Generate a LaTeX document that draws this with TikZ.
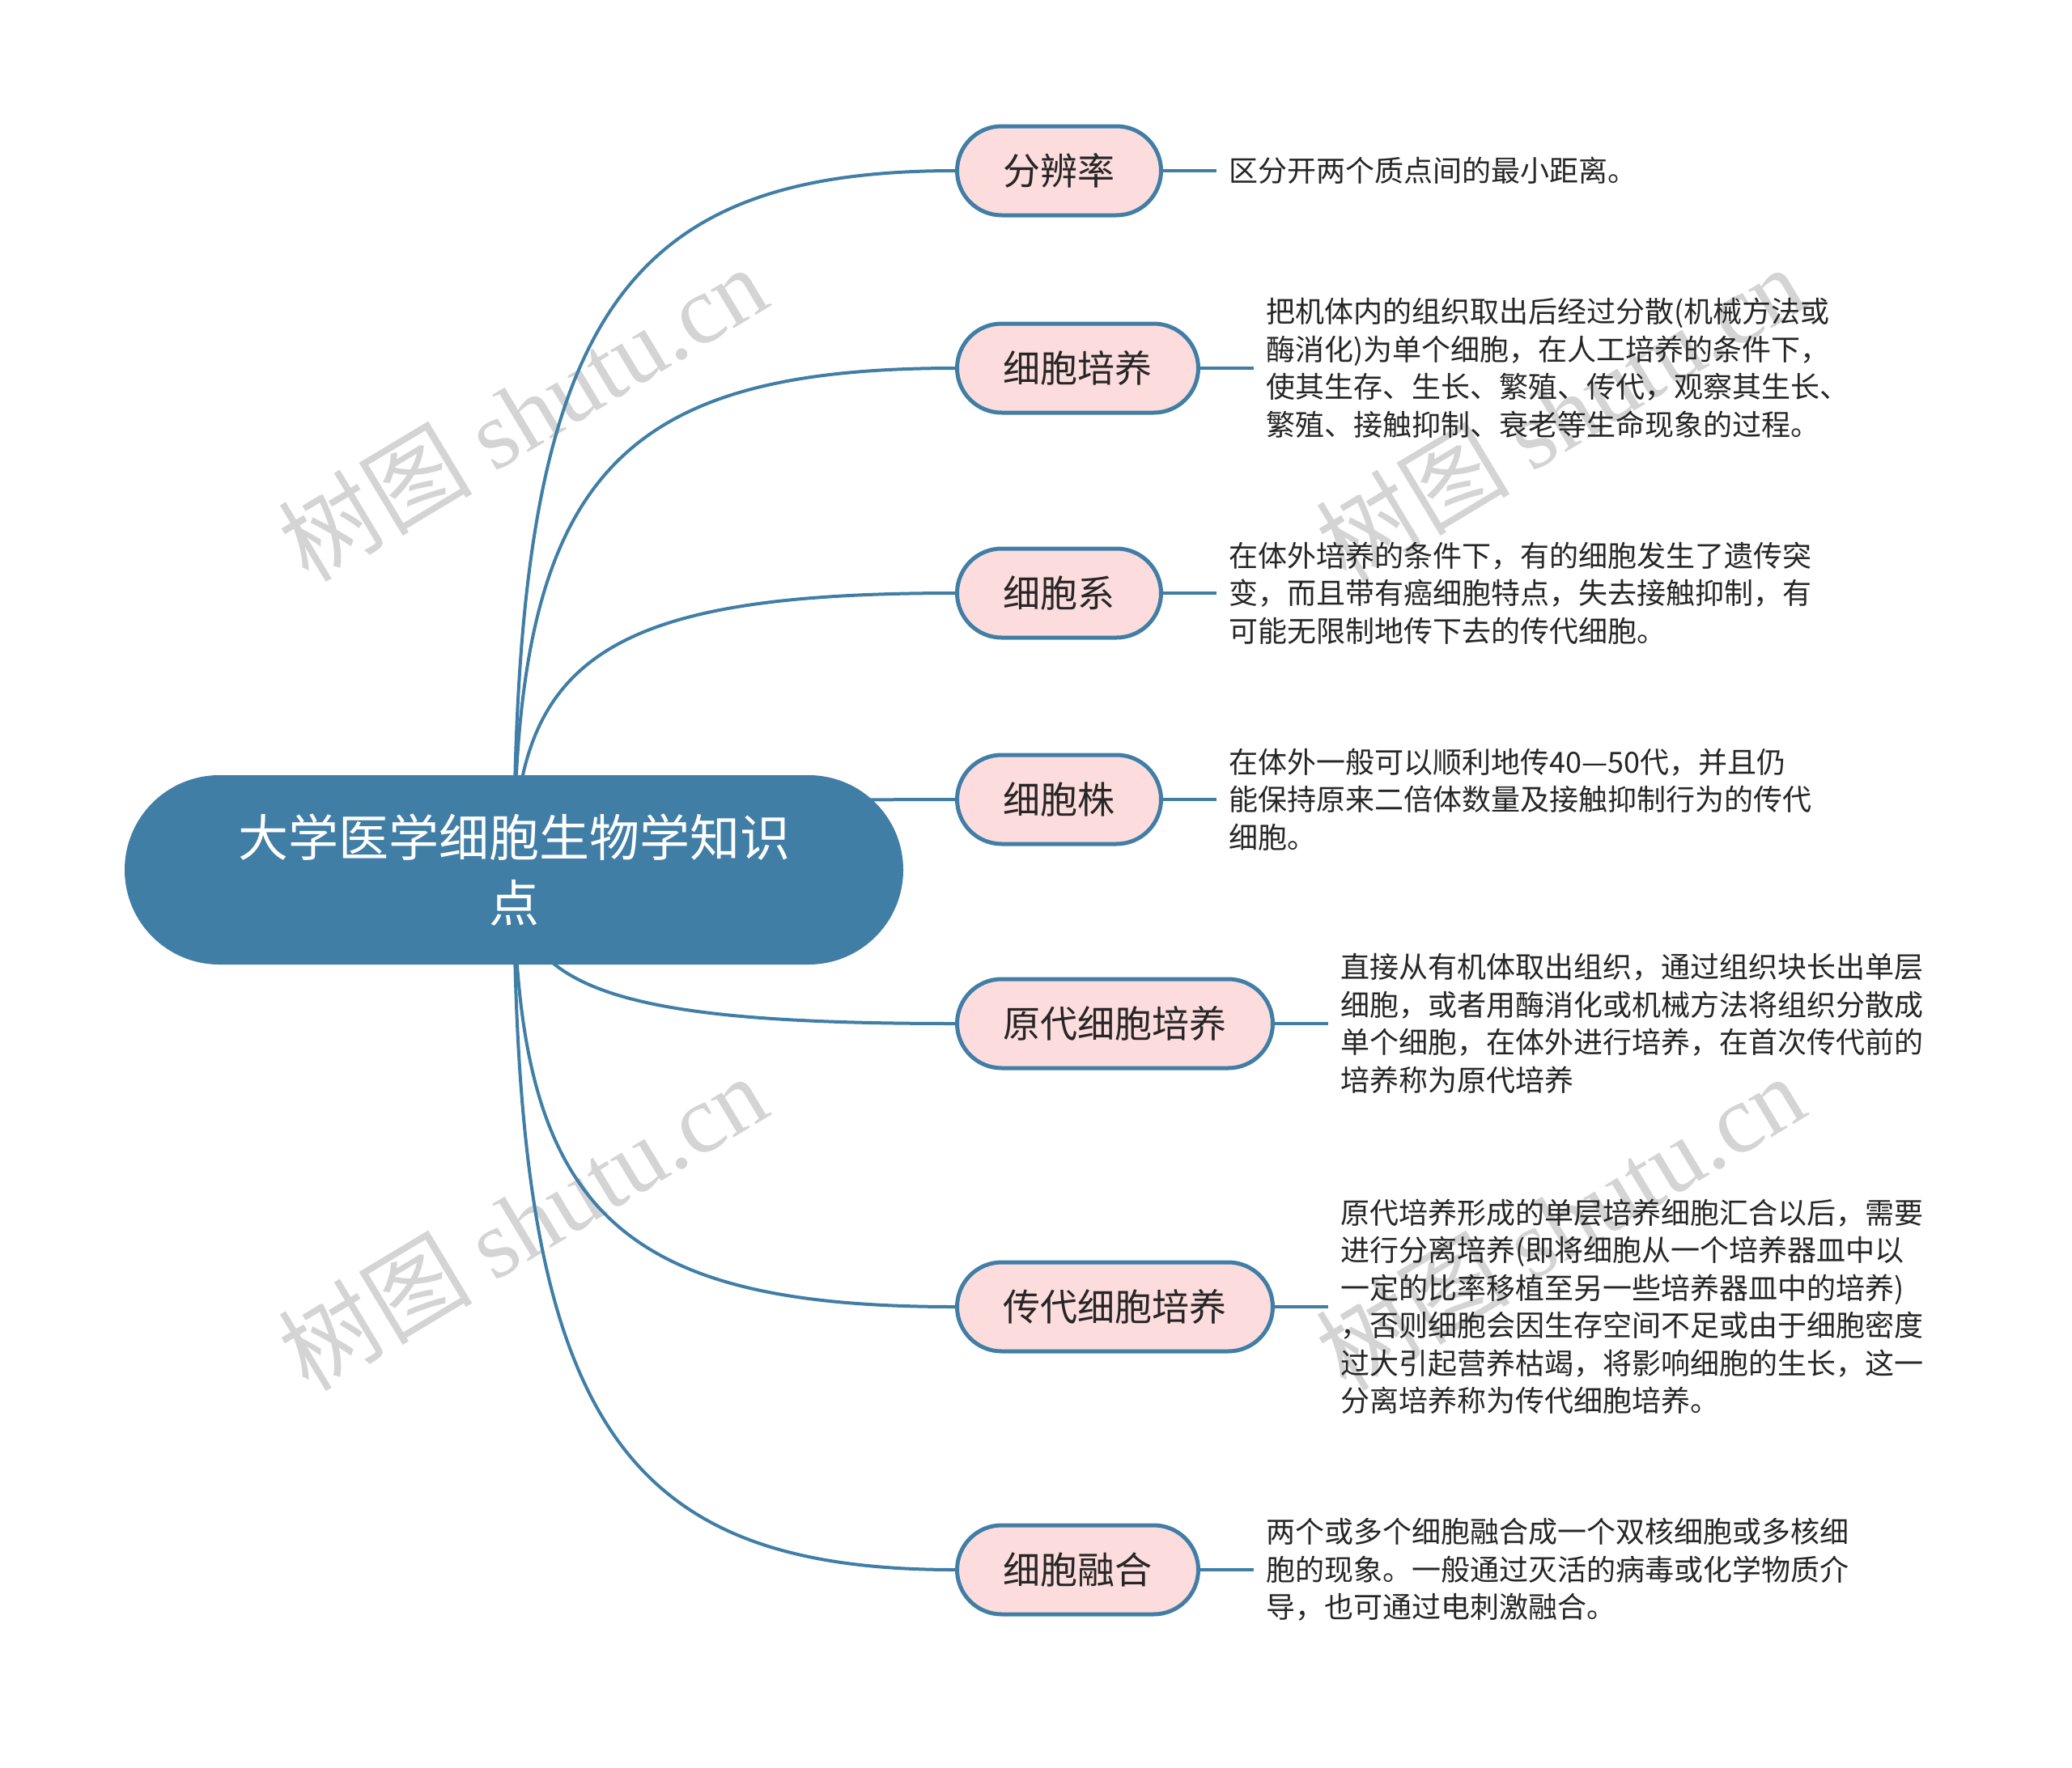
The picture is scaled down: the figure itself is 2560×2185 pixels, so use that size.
\documentclass[tikz,border=0pt]{standalone}
\usepackage{fontspec}
\setmainfont{Noto Sans CJK SC}
\newfontfamily\wmfont{Liberation Serif}
\usetikzlibrary{positioning,backgrounds}

\definecolor{zhublue}{HTML}{407EA6}
\definecolor{zhipink}{HTML}{FCDCDC}
\definecolor{wentext}{HTML}{262626}
\definecolor{shuiyin}{HTML}{D4D4D4}

\tikzset{
  zhongxinbox/.style={fill=zhublue, draw=none, rounded corners=117pt,
    minimum width=962pt, minimum height=234pt, align=center, text=white,
    font=\fontsize{62}{81}\selectfont},
  zhibox/.style={fill=zhipink, draw=zhublue, line width=5pt, rounded corners=55pt,
    minimum height=110pt, inner xsep=57pt, anchor=west, text=wentext,
    font=\fontsize{46}{55}\selectfont},
  shuoming/.style={inner sep=0pt, align=left, text=wentext,
    font=\fontsize{36}{46.5}\selectfont},
  lian/.style={draw=zhublue, line width=4pt},
  shuiyinzi/.style={text=shuiyin, rotate=31, inner sep=0pt,
    font=\fontsize{120}{120}\selectfont}
}

\begin{document}
\begin{tikzpicture}[x=1pt, y=-1pt]
  \useasboundingbox (0,0) rectangle (2560,2185);

  % 中心主题
  \node[zhongxinbox] (zhongxin) at (635,1075) {大学医学细胞生物学知识\\点};

  % 分支主题
  \node[zhibox] (fenbian) at (1180,211) {分辨率};
  \node[zhibox] (peiyang) at (1180,455) {细胞培养};
  \node[zhibox] (xibaoxi) at (1180,733) {细胞系};
  \node[zhibox] (xibaozhu) at (1180,988) {细胞株};
  \node[zhibox] (yuandai) at (1180,1265) {原代细胞培养};
  \node[zhibox] (chuandai) at (1180,1615) {传代细胞培养};
  \node[zhibox] (ronghe) at (1180,1940) {细胞融合};

  % 说明文字 (短线末端 + 文字)
  \coordinate (fenbian-d) at ([xshift=66pt]fenbian.east);
  \node[shuoming, right=15pt of fenbian-d] (fenbian-t) {区分开两个质点间的最小距离。};

  \coordinate (peiyang-d) at ([xshift=66pt]peiyang.east);
  \node[shuoming, right=15pt of peiyang-d] (peiyang-t) {把机体内的组织取出后经过分散(机械方法或\\酶消化)为单个细胞，在人工培养的条件下，\\使其生存、生长、繁殖、传代，观察其生长、\\繁殖、接触抑制、衰老等生命现象的过程。};

  \coordinate (xibaoxi-d) at ([xshift=66pt]xibaoxi.east);
  \node[shuoming, right=15pt of xibaoxi-d] (xibaoxi-t) {在体外培养的条件下，有的细胞发生了遗传突\\变，而且带有癌细胞特点，失去接触抑制，有\\可能无限制地传下去的传代细胞。};

  \coordinate (xibaozhu-d) at ([xshift=66pt]xibaozhu.east);
  \node[shuoming, right=15pt of xibaozhu-d] (xibaozhu-t) {在体外一般可以顺利地传40—50代，并且仍\\能保持原来二倍体数量及接触抑制行为的传代\\细胞。};

  \coordinate (yuandai-d) at ([xshift=66pt]yuandai.east);
  \node[shuoming, right=15pt of yuandai-d] (yuandai-t) {直接从有机体取出组织，通过组织块长出单层\\细胞，或者用酶消化或机械方法将组织分散成\\单个细胞，在体外进行培养，在首次传代前的\\培养称为原代培养};

  \coordinate (chuandai-d) at ([xshift=66pt]chuandai.east);
  \node[shuoming, right=15pt of chuandai-d] (chuandai-t) {原代培养形成的单层培养细胞汇合以后，需要\\进行分离培养(即将细胞从一个培养器皿中以\\一定的比率移植至另一些培养器皿中的培养)\\，否则细胞会因生存空间不足或由于细胞密度\\过大引起营养枯竭，将影响细胞的生长，这一\\分离培养称为传代细胞培养。};

  \coordinate (ronghe-d) at ([xshift=66pt]ronghe.east);
  \node[shuoming, right=15pt of ronghe-d] (ronghe-t) {两个或多个细胞融合成一个双核细胞或多核细\\胞的现象。一般通过灭活的病毒或化学物质介\\导，也可通过电刺激融合。};

  % 短线
  \foreach \zhi in {fenbian, peiyang, xibaoxi, xibaozhu, yuandai, chuandai, ronghe}
    \draw[lian] (\zhi.east) -- (\zhi-d);

  \begin{scope}[on background layer]
    % 水印
    \foreach \wx/\wy [count=\i] in {645/510, 1927/510, 645/1510, 1927/1510}
      \node[shuiyinzi] (shuiyin\i) at (\wx,\wy) {树图 {\wmfont shutu.cn}};

    % 中心到分支的曲线
    \draw[lian] (zhongxin.center) .. controls (635,401) and (760,211) .. (fenbian.west);
    \draw[lian] (zhongxin.center) .. controls (635,591) and (760,455) .. (peiyang.west);
    \draw[lian] (zhongxin.center) .. controls (635,808) and (760,733) .. (xibaoxi.west);
    \draw[lian] (zhongxin.center) .. controls (635,1007) and (760,988) .. (xibaozhu.west);
    \draw[lian] (zhongxin.center) .. controls (635,1223) and (760,1265) .. (yuandai.west);
    \draw[lian] (zhongxin.center) .. controls (635,1496) and (760,1615) .. (chuandai.west);
    \draw[lian] (zhongxin.center) .. controls (635,1750) and (760,1940) .. (ronghe.west);
  \end{scope}
\end{tikzpicture}
\end{document}
